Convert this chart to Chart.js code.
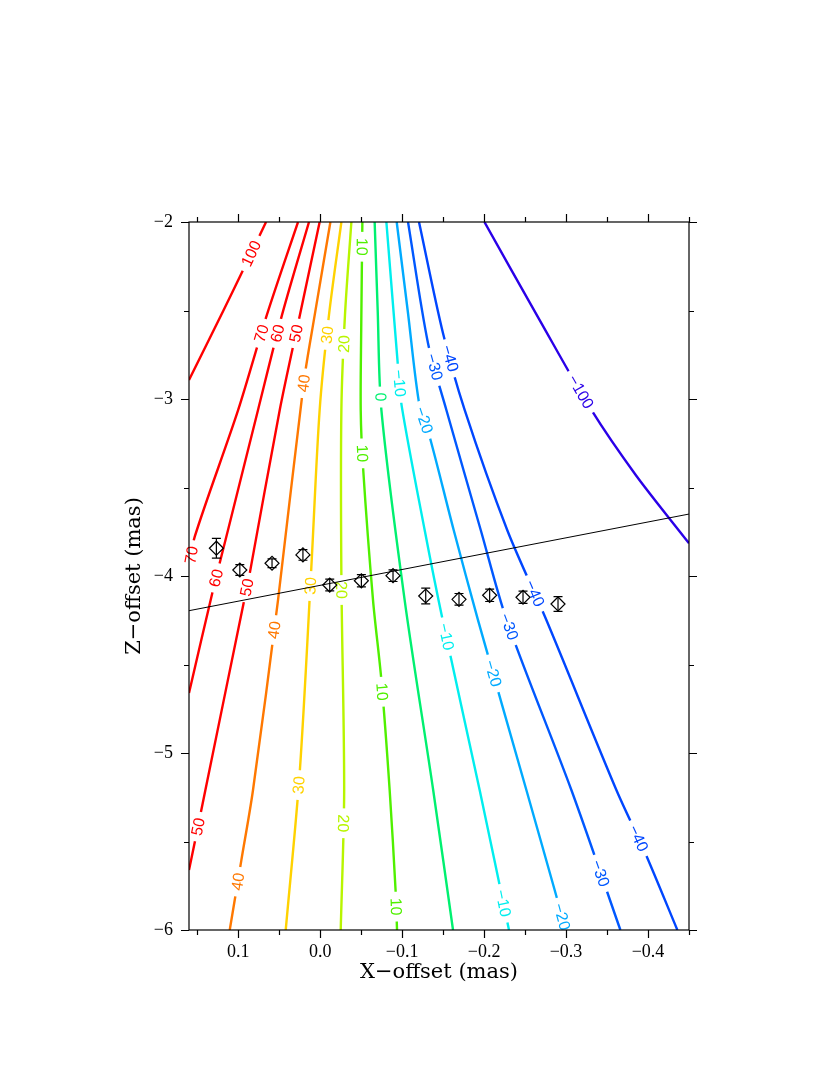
<!DOCTYPE html>
<html>
<head>
<meta charset="utf-8">
<script src="https://cdn.jsdelivr.net/npm/chart.js@4"></script>
<style>
  body { margin: 0; background: #fff; }
</style>
</head>
<body>
<canvas id="myChart" width="830" height="1075"></canvas>
<script>
// axis ticks
const xMajor = [0.1, 0.0, -0.1, -0.2, -0.3, -0.4];
const xMinor = [0.15, 0.05, -0.05, -0.15, -0.25, -0.35, -0.45];
const yMajor = [-2, -3, -4, -5, -6];
const yMinor = [-2.5, -3.5, -4.5, -5.5];

// contour lines, [x, z] pairs
const c100 = [[0.066, -2], [0.094, -2.271], [0.118, -2.5], [0.16, -2.893]];
const c70 = [[0.027, -2], [0.065, -2.525], [0.100, -3.062], [0.153, -3.778], [0.16, -3.95]];
const c60 = [[0.0136, -2], [0.0465, -2.525], [0.0758, -3.062], [0.1124, -3.740], [0.1307, -4.079], [0.16, -4.661]];
const c50 = [[0.0006, -2], [0.0247, -2.525], [0.0493, -3.062], [0.0859, -3.985], [0.0934, -4.154], [0.14, -5.209], [0.1524, -5.492], [0.16, -5.661]];
const c40 = [[-0.0125, -2], [0.0066, -2.525], [0.0201, -2.910], [0.0514, -4.136], [0.0819, -5.209], [0.0961, -5.605], [0.1103, -6]];
const c30 = [[-0.0259, -2], [-0.0108, -2.525], [0.0006, -3.062], [0.0107, -3.947], [0.025, -5.115], [0.042, -6]];
const c20 = [[-0.0381, -2], [-0.0303, -2.525], [-0.0259, -3.062], [-0.0259, -4.004], [-0.0293, -5.209], [-0.0251, -6]];
const c10 = [[-0.0515, -2], [-0.0501, -2.61], [-0.0495, -3.062], [-0.0523, -3.383], [-0.0645, -4.136], [-0.0747, -4.588], [-0.0848, -5.209], [-0.0922, -5.791], [-0.0938, -6]];
const c0 = [[-0.0665, -2], [-0.0702, -2.5], [-0.0747, -3.062], [-0.1031, -4.136], [-0.1379, -5.209], [-0.1621, -6]];
const cm10 = [[-0.0808, -2], [-0.095, -2.818], [-0.0995, -3.04], [-0.1275, -3.74], [-0.1495, -4.249], [-0.1946, -5.209], [-0.2304, -6]];
const cm20 = [[-0.0934, -2], [-0.1068, -2.5], [-0.1214, -3.044], [-0.1336, -3.213], [-0.1629, -3.74], [-0.1926, -4.249], [-0.2516, -5.209], [-0.2861, -5.774], [-0.2996, -6]];
const cm30 = [[-0.1072, -2], [-0.1316, -2.685], [-0.154, -3.062], [-0.1959, -3.74], [-0.2276, -4.249], [-0.3065, -5.209], [-0.3663, -6]];
const cm40 = [[-0.1206, -2], [-0.1499, -2.629], [-0.1763, -3.062], [-0.2282, -3.74], [-0.276, -4.249], [-0.3614, -5.209], [-0.3959, -5.558], [-0.4358, -6]];
const cm100 = [[-0.2004, -2], [-0.2678, -2.554], [-0.3309, -3.062], [-0.385, -3.429], [-0.45, -3.815]];

// where each line carries its label (z value)
const lab100 = [-2.177];
const lab70 = [-2.629, -3.881];
const lab60 = [-2.629, -4.011];
const lab50 = [-2.629, -4.065, -5.416];
const lab40 = [-2.911, -4.305, -5.727];
const lab30 = [-2.638, -4.056, -5.181];
const lab20 = [-2.689, -4.079, -5.397];
const lab10 = [-2.140, -3.307, -4.654, -5.868];
const lab0 = [-2.989];
const labm10 = [-2.911, -4.343, -5.849];
const labm20 = [-3.119, -4.550, -5.925];
const labm30 = [-2.818, -4.286, -5.680];
const labm40 = [-2.770, -4.098, -5.482];
const labm100 = [-2.959];

// measured positions with error bars
const ptX = [0.1266, 0.098, 0.0587, 0.021, -0.0117, -0.0503, -0.0889, -0.1288, -0.1694, -0.2068, -0.2475, -0.2902];
const ptY = [-3.843, -3.966, -3.928, -3.881, -4.051, -4.027, -3.998, -4.113, -4.132, -4.109, -4.120, -4.158];
const ptErr = [0.056, 0.03, 0.025, 0.03, 0.033, 0.035, 0.033, 0.044, 0.033, 0.035, 0.035, 0.042];

// straight fit line
const fitX = [0.16, -0.45];
const fitY = [-4.196, -3.650];

const contours = [
    { level: 100, pts: c100, labels: lab100, color: '#ff0000' },
    { level: 70, pts: c70, labels: lab70, color: '#ff0000' },
    { level: 60, pts: c60, labels: lab60, color: '#ff0000' },
    { level: 50, pts: c50, labels: lab50, color: '#ff0000' },
    { level: 40, pts: c40, labels: lab40, color: '#ff7800' },
    { level: 30, pts: c30, labels: lab30, color: '#ffd200' },
    { level: 20, pts: c20, labels: lab20, color: '#b8f500' },
    { level: 10, pts: c10, labels: lab10, color: '#50f000' },
    { level: 0, pts: c0, labels: lab0, color: '#00f070' },
    { level: -10, pts: cm10, labels: labm10, color: '#00eeee' },
    { level: -20, pts: cm20, labels: labm20, color: '#00aaff' },
    { level: -30, pts: cm30, labels: labm30, color: '#0058ff' },
    { level: -40, pts: cm40, labels: labm40, color: '#0046ff' },
    { level: -100, pts: cm100, labels: labm100, color: '#2a00e8' }
];

function minus(s) {
    return String(s).replace('-', '\u2212');
}

const datasets = [];
datasets.push({
    data: ptX.map((x, i) => ({ x: x, y: ptY[i] })),
    pointStyle: 'rectRot',
    pointRadius: 7,
    borderColor: '#000',
    borderWidth: 1.2,
    backgroundColor: 'rgba(0,0,0,0)',
    showLine: false,
    order: 0
});
datasets.push({
    data: fitX.map((x, i) => ({ x: x, y: fitY[i] })),
    showLine: true,
    borderColor: '#000',
    borderWidth: 1,
    pointRadius: 0,
    order: 1
});
contours.forEach(c => {
    datasets.push({
        data: c.pts.map(p => ({ x: p[0], y: p[1] })),
        showLine: true,
        borderColor: c.color,
        borderWidth: 2.4,
        pointRadius: 0,
        tension: 0.3,
        order: 2
    });
});

// find the point on a line at a given z, and the local direction
function pointOnLine(pts, z) {
    for (let i = 0; i < pts.length - 1; i++) {
        const a = pts[i], b = pts[i + 1];
        if ((z - a[1]) * (z - b[1]) <= 0) {
            const t = (z - a[1]) / (b[1] - a[1]);
            return { x: a[0] + t * (b[0] - a[0]), a: a, b: b };
        }
    }
    return null;
}

const labelPlugin = {
    id: 'contourLabels',
    afterDatasetDraw(chart, args) {
        if (args.index !== 2) return;
        const ctx = chart.ctx;
        const xs = chart.scales.x, ys = chart.scales.y;
        ctx.save();
        ctx.font = '16px "Liberation Sans", Arial, sans-serif';
        ctx.textAlign = 'center';
        ctx.textBaseline = 'middle';
        contours.forEach(c => {
            const text = minus(c.level);
            const w = ctx.measureText(text).width;
            c.labels.forEach(z => {
                const p = pointOnLine(c.pts, z);
                if (!p) return;
                const px = xs.getPixelForValue(p.x), py = ys.getPixelForValue(z);
                const dx = xs.getPixelForValue(p.b[0]) - xs.getPixelForValue(p.a[0]);
                const dy = ys.getPixelForValue(p.b[1]) - ys.getPixelForValue(p.a[1]);
                let ang = Math.atan2(dy, dx) * 180 / Math.PI;
                while (ang > 92) ang -= 180;
                while (ang <= -88) ang += 180;
                ctx.save();
                ctx.translate(px, py);
                ctx.rotate(ang * Math.PI / 180);
                ctx.fillStyle = '#fff';
                ctx.fillRect(-w / 2 - 6, -6, w + 12, 12);
                ctx.fillStyle = c.color;
                ctx.fillText(text, 0, 1);
                ctx.restore();
            });
        });
        ctx.restore();
    },
    afterDatasetsDraw(chart) {
        // error bars
        const ctx = chart.ctx;
        const xs = chart.scales.x, ys = chart.scales.y;
        ctx.save();
        ctx.strokeStyle = '#000';
        ctx.lineWidth = 1.2;
        ptX.forEach((x, i) => {
            const px = xs.getPixelForValue(x);
            const top = ys.getPixelForValue(ptY[i] + ptErr[i]);
            const bot = ys.getPixelForValue(ptY[i] - ptErr[i]);
            ctx.beginPath();
            ctx.moveTo(px, top); ctx.lineTo(px, bot);
            ctx.moveTo(px - 4.5, top); ctx.lineTo(px + 4.5, top);
            ctx.moveTo(px - 4.5, bot); ctx.lineTo(px + 4.5, bot);
            ctx.stroke();
        });
        ctx.restore();
    },
    afterDraw(chart) {
        // frame and outward ticks on all four sides
        const ctx = chart.ctx;
        const a = chart.chartArea;
        const xs = chart.scales.x, ys = chart.scales.y;
        ctx.save();
        ctx.strokeStyle = '#000';
        ctx.lineWidth = 1.2;
        ctx.strokeRect(a.left, a.top, a.right - a.left, a.bottom - a.top);
        ctx.beginPath();
        const xt = (v, len) => {
            const p = Math.round(xs.getPixelForValue(v)) + 0.5;
            ctx.moveTo(p, a.bottom); ctx.lineTo(p, a.bottom + len);
            ctx.moveTo(p, a.top); ctx.lineTo(p, a.top - len);
        };
        const yt = (v, len) => {
            const p = Math.round(ys.getPixelForValue(v)) + 0.5;
            ctx.moveTo(a.left, p); ctx.lineTo(a.left - len, p);
            ctx.moveTo(a.right, p); ctx.lineTo(a.right + len, p);
        };
        xMajor.forEach(v => xt(v, 8));
        xMinor.forEach(v => xt(v, 5));
        yMajor.forEach(v => yt(v, 8));
        yMinor.forEach(v => yt(v, 5));
        ctx.stroke();
        ctx.restore();
    }
};

const tickFont = { family: '"Liberation Serif", "Times New Roman", serif', size: 18 };
const titleFont = { family: '"DejaVu Serif", serif', size: 21 };

new Chart(document.getElementById('myChart').getContext('2d'), {
    type: 'scatter',
    data: { datasets: datasets },
    options: {
        responsive: false,
        animation: false,
        events: [],
        layout: { padding: { left: 100, right: 141, top: 222, bottom: 85 } },
        plugins: { legend: { display: false }, tooltip: { enabled: false } },
        scales: {
            x: {
                type: 'linear',
                reverse: true,
                min: -0.45,
                max: 0.16,
                afterBuildTicks: s => { s.ticks = xMajor.map(v => ({ value: v })); },
                afterFit: s => { s.height = 60; },
                grid: { display: false, drawTicks: false },
                border: { display: false },
                ticks: {
                    padding: 11,
                    color: '#000',
                    font: tickFont,
                    maxRotation: 0,
                    autoSkip: false,
                    callback: v => minus(v.toFixed(1))
                },
                title: { display: true, text: 'X\u2212offset (mas)', color: '#000', font: titleFont, padding: { top: 0, bottom: 5 } }
            },
            y: {
                type: 'linear',
                min: -6,
                max: -2,
                afterBuildTicks: s => { s.ticks = yMajor.map(v => ({ value: v })); },
                afterFit: s => { s.width = 89; },
                grid: { display: false, drawTicks: false },
                border: { display: false },
                ticks: {
                    padding: 16,
                    color: '#000',
                    font: tickFont,
                    autoSkip: false,
                    callback: v => minus(v.toFixed(0))
                },
                title: { display: true, text: 'Z\u2212offset (mas)', color: '#000', font: titleFont, padding: { top: 22, bottom: 0 } }
            }
        }
    },
    plugins: [labelPlugin]
});
</script>
</body>
</html>
